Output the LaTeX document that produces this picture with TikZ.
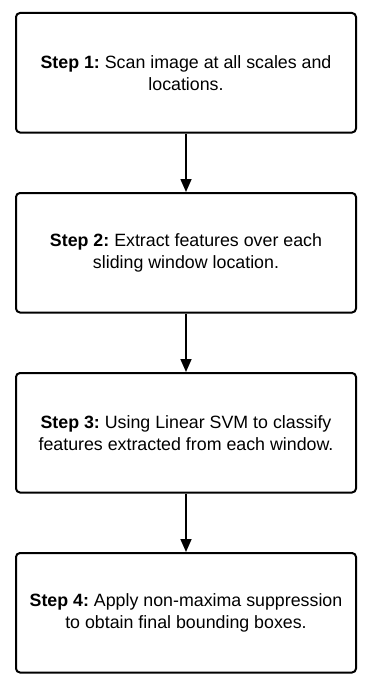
\documentclass[tikz,border=0pt]{standalone}
\usepackage{fontspec}
\setmainfont{Liberation Sans}
\usetikzlibrary{arrows.meta}
\frenchspacing
\begin{document}
\begin{tikzpicture}[x=1pt,y=-1pt,
  stepbox/.style={draw=black, line width=2pt, rounded corners=4pt,
    minimum width=340pt, minimum height=119.5pt, align=center,
    font=\fontsize{17.8pt}{22pt}\selectfont, inner sep=0pt},
  flow/.style={draw=black, line width=1.6pt,
    -{Triangle[length=13pt,width=11pt]}}]
  \useasboundingbox (0,0) rectangle (376,693);
  \node[stepbox] (s1) at (186,72.75) {\textbf{Step 1:} Scan image at all scales and\\locations.};
  \node[stepbox] (s2) at (186,252.75) {\textbf{Step 2:} Extract features over each\\sliding window location.};
  \node[stepbox] (s3) at (186,432.75) {\textbf{Step 3:} Using Linear SVM to classify\\features extracted from each window.};
  \node[stepbox] (s4) at (186,612.75) {\textbf{Step 4:} Apply non-maxima suppression\\to obtain final bounding boxes.};
  \draw[flow] (s1) -- (s2);
  \draw[flow] (s2) -- (s3);
  \draw[flow] (s3) -- (s4);
\end{tikzpicture}
\end{document}
